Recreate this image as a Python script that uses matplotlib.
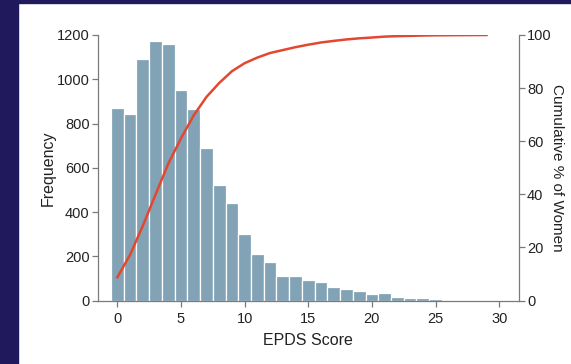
import matplotlib.pyplot as plt
import matplotlib.patches as mpatches
import numpy as np

plt.rcParams['font.family'] = ['Liberation Sans', 'DejaVu Sans']

# EPDS score histogram (frequency per score)
scores = list(range(0, 30))
frequency = [871, 844, 1090, 1171, 1158, 952, 864, 690, 524, 442,
             302, 211, 172, 109, 110, 92, 83, 60, 54, 42,
             30, 35, 17, 11, 13, 8, 3, 3, 2, 3]

x_ticks = [0, 5, 10, 15, 20, 25, 30]
y_ticks = [0, 200, 400, 600, 800, 1000, 1200]
pct_ticks = [0, 20, 40, 60, 80, 100]

bar_color = '#82a3b5'
line_color = '#e4472f'
spine_color = '#7a7a7a'
text_color = '#222222'

freq = np.array(frequency)
cum_pct = np.cumsum(freq) / freq.sum() * 100

fig = plt.figure(figsize=(5.71, 3.64), dpi=100)
fig.patch.set_facecolor('white')
# navy frame on the left and top
fig.add_artist(mpatches.Rectangle((0, 0), 18 / 571, 1, transform=fig.transFigure,
                                  color='#201a5c', zorder=0))
fig.add_artist(mpatches.Rectangle((0, 1 - 2.5 / 364), 1, 2.5 / 364, transform=fig.transFigure,
                                  color='#201a5c', zorder=0))

ax = fig.add_axes([98 / 571, 1 - 300.5 / 364, 420.7 / 571, 265.5 / 364])
ax.bar(scores, frequency, width=1.0, color=bar_color, edgecolor='white', linewidth=0.9)
ax.set_xlim(-1.52, 31.53)
ax.set_ylim(0, 1200)
ax.set_xticks(x_ticks)
ax.set_yticks(y_ticks)
ax.spines['top'].set_visible(False)
ax.spines['right'].set_visible(False)
for s in ['left', 'bottom']:
    ax.spines[s].set_color(spine_color)
    ax.spines[s].set_linewidth(0.9)
ax.tick_params(colors=spine_color, labelcolor=text_color, labelsize=10.5,
               length=4, width=0.9, pad=2)
ax.tick_params(axis='x', pad=4.5)
ax.set_xlabel('EPDS Score', fontsize=11.5, color=text_color, labelpad=5)
ax.set_ylabel('Frequency', fontsize=11.5, color=text_color, labelpad=1)

ax2 = ax.twinx()
ax2.plot(scores, cum_pct, color=line_color, linewidth=1.8)
ax2.set_ylim(0, 100)
ax2.set_yticks(pct_ticks)
ax2.spines['top'].set_visible(False)
ax2.spines['left'].set_visible(False)
ax2.spines['bottom'].set_visible(False)
ax2.spines['right'].set_color(spine_color)
ax2.spines['right'].set_linewidth(0.9)
ax2.tick_params(colors=spine_color, labelcolor=text_color, labelsize=10.5,
                length=4, width=0.9, pad=2)
ax2.set_ylabel('Cumulative % of Women', fontsize=11, color=text_color,
               rotation=270, labelpad=9)

fig.savefig('out.png', dpi=100)
